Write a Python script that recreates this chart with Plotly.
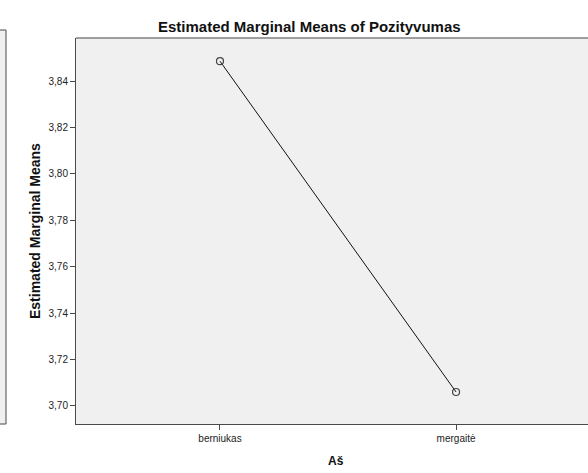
import plotly.graph_objects as go

W, H = 588, 473

categories = ["berniukas", "mergaitė"]
means = [3.8486, 3.7060]
y_ticks = [3.70, 3.72, 3.74, 3.76, 3.78, 3.80, 3.82, 3.84]

font = "Liberation Sans, Arial, sans-serif"
axis_col = "#4a4a4a"

# plot box in pixels
left, right, top, bottom = 76, 588, 38, 424

fig = go.Figure()
fig.add_trace(go.Scatter(
    x=[0, 1], y=means, mode="lines+markers",
    line=dict(color="#111111", width=1),
    marker=dict(symbol="circle-open", size=7, color="#444444", line=dict(width=1.2)),
    hoverinfo="skip", showlegend=False,
))

fig.update_layout(
    width=W, height=H,
    margin=dict(l=0, r=0, t=0, b=0),
    paper_bgcolor="white",
    plot_bgcolor="#f0f0f0",
    separators=", ",
    font=dict(family=font, size=10, color="#222222"),
    xaxis=dict(
        domain=[left / W, right / W],
        range=[-0.61, 1.559],
        tickvals=[0, 1], ticktext=categories,
        showgrid=False, zeroline=False,
        showline=True, linecolor=axis_col, linewidth=1,
        ticks="outside", ticklen=5, tickcolor=axis_col, tickwidth=1,
        tickfont=dict(size=10, color="#222222"),
    ),
    yaxis=dict(
        domain=[(H - bottom) / H, (H - top) / H],
        range=[3.6922, 3.8586],
        tickvals=y_ticks, tickformat=".2f",
        showgrid=False, zeroline=False,
        showline=True, linecolor=axis_col, linewidth=1,
        ticks="outside", ticklen=5, tickcolor=axis_col, tickwidth=1,
        tickfont=dict(size=10, color="#222222"),
    ),
)

# top border of plot box
fig.add_shape(type="line", xref="paper", yref="paper",
              x0=left / W, x1=1, y0=(H - top) / H, y1=(H - top) / H,
              line=dict(color="#808080", width=1.5))

# stray neighbour panel cut off at the left edge
fig.add_shape(type="rect", xref="paper", yref="paper",
              x0=-0.01, x1=6 / W, y0=(H - bottom) / H, y1=(H - 30) / H,
              fillcolor="#f0f0f0", line=dict(color=axis_col, width=1), layer="below")

fig.add_annotation(text="<b>Estimated Marginal Means of Pozityvumas</b>",
                   xref="paper", yref="paper", x=309 / W, y=(H - 27) / H,
                   xanchor="center", yanchor="middle",
                   showarrow=False, font=dict(size=15, color="#111111", family=font))
fig.add_annotation(text="<b>Estimated Marginal Means</b>",
                   xref="paper", yref="paper", x=35 / W, y=(H - 231) / H,
                   xanchor="center", yanchor="middle",
                   textangle=-90, showarrow=False,
                   font=dict(size=14, color="#111111", family=font))
fig.add_annotation(text="<b>Aš</b>",
                   xref="paper", yref="paper", x=336 / W, y=(H - 461) / H,
                   xanchor="center", yanchor="middle",
                   showarrow=False, font=dict(size=12, color="#111111", family=font))

# the page body has a default 8px margin; drop it so the figure fills the window
fig.write_html("out.html", config={"displayModeBar": False},
               post_script="document.body.style.margin='0';document.body.style.overflow='hidden';")
